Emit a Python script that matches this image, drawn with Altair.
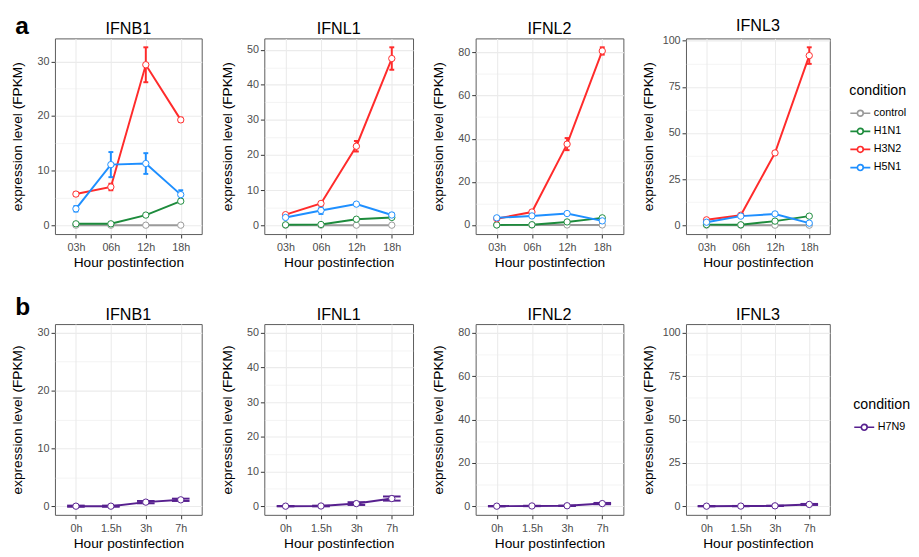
import altair as alt
import pandas as pd

# ---------------- data ----------------
genes = ["IFNB1", "IFNL1", "IFNL2", "IFNL3"]
hours_a = ["03h", "06h", "12h", "18h"]
hours_b = ["0h", "1.5h", "3h", "7h"]
conditions_a = ["control", "H1N1", "H3N2", "H5N1"]
conditions_b = ["H7N9"]
colors_a = ["#9a9a9a", "#1d8b3c", "#ff2b2b", "#1e8fff"]
colors_b = ["#57208f"]

# panel a: mean FPKM at hours_a, per condition
ifnb1_a_mean = {"control": [0, 0, 0, 0], "H1N1": [0.25, 0.25, 1.85, 4.4],
                "H3N2": [5.7, 7.0, 29.4, 19.3], "H5N1": [3.0, 11.1, 11.3, 5.6]}
ifnb1_a_err = {"control": [0, 0, 0, 0], "H1N1": [0.1, 0.1, 0.2, 0.3],
               "H3N2": [0.3, 0.6, 3.2, 0.4], "H5N1": [0.5, 2.3, 1.9, 0.8]}
ifnl1_a_mean = {"control": [0, 0, 0, 0], "H1N1": [0.1, 0.2, 1.7, 2.2],
                "H3N2": [3.0, 6.2, 22.5, 47.5], "H5N1": [2.2, 4.2, 6.0, 2.9]}
ifnl1_a_err = {"control": [0, 0, 0, 0], "H1N1": [0.1, 0.1, 0.3, 0.3],
               "H3N2": [0.3, 0.4, 1.5, 3.2], "H5N1": [0.3, 1.0, 0.3, 0.6]}
ifnl2_a_mean = {"control": [0, 0, 0, 0], "H1N1": [0.0, 0.1, 1.4, 3.3],
                "H3N2": [2.9, 6.0, 37.5, 80.7], "H5N1": [3.3, 4.2, 5.3, 1.9]}
ifnl2_a_err = {"control": [0, 0, 0, 0], "H1N1": [0.1, 0.1, 0.3, 0.4],
               "H3N2": [0.4, 0.5, 2.8, 1.7], "H5N1": [0.3, 0.4, 0.5, 0.4]}
ifnl3_a_mean = {"control": [0, 0, 0, 0], "H1N1": [0.3, 0.2, 2.2, 4.9],
                "H3N2": [2.9, 5.4, 39.2, 92.0], "H5N1": [1.6, 4.9, 6.1, 1.1]}
ifnl3_a_err = {"control": [0, 0, 0, 0], "H1N1": [0.1, 0.1, 0.3, 0.4],
               "H3N2": [0.4, 0.5, 0.6, 4.5], "H5N1": [0.3, 0.4, 0.5, 0.4]}

# panel b: H7N9 mean FPKM at hours_b, per gene
h7n9_b_mean = {"IFNB1": [0.0, 0.0, 0.7, 1.1], "IFNL1": [0.0, 0.05, 0.75, 2.2],
               "IFNL2": [0.0, 0.1, 0.2, 1.2], "IFNL3": [0.0, 0.05, 0.2, 1.0]}
h7n9_b_err = {"IFNB1": [0.1, 0.1, 0.2, 0.2], "IFNL1": [0.05, 0.1, 0.4, 0.6],
              "IFNL2": [0.1, 0.1, 0.1, 0.3], "IFNL3": [0.1, 0.1, 0.1, 0.3]}

y_limits_b = {"IFNB1": 30, "IFNL1": 50, "IFNL2": 80, "IFNL3": 100}
y_steps = {"IFNB1": 10, "IFNL1": 10, "IFNL2": 20, "IFNL3": 25}

a_means = {"IFNB1": ifnb1_a_mean, "IFNL1": ifnl1_a_mean, "IFNL2": ifnl2_a_mean, "IFNL3": ifnl3_a_mean}
a_errs = {"IFNB1": ifnb1_a_err, "IFNL1": ifnl1_a_err, "IFNL2": ifnl2_a_err, "IFNL3": ifnl3_a_err}

FONT = "Liberation Sans"
widths = [150, 152, 151, 147]
legend_path = "M-1,0L0.2,0M1.2,0L2.4,0M0.2,0A0.5,0.5,0,1,1,1.2,0A0.5,0.5,0,1,1,0.2,0Z"


def make_df(hours, means, errs):
    rows = []
    for cond in means:
        for i, h in enumerate(hours):
            m = means[cond][i]
            e = errs[cond][i]
            rows.append({"hour": h, "idx": i, "condition": cond, "mean": m,
                         "lo": m - e, "hi": m + e})
    return pd.DataFrame(rows)


def y_values(dmax, step):
    vals = []
    k = 0
    while k * step / 2 <= dmax + 1e-9:
        vals.append(k * step / 2)
        k += 1
    return vals


def panel(df, hours, conds, colors, domain, step, cap, width, height, title, lx, ly):
    major = f"abs(datum.value / {step} - round(datum.value / {step})) < 0.001"
    xs = alt.Scale(type="point", domain=hours, padding=0.6)
    ys = alt.Scale(domain=domain, nice=False, zero=False)
    xaxis = alt.Axis(title="Hour postinfection", labelAngle=0, grid=True, gridWidth=1.1,
                     tickSize=4, labelPadding=4, titlePadding=3)
    yaxis = alt.Axis(title="expression level (FPKM)", values=y_values(domain[1], step),
                     labelExpr=f"{major} ? datum.label : ''",
                     gridWidth={"condition": {"test": major, "value": 1.1}, "value": 0.55},
                     tickOpacity={"condition": {"test": major, "value": 1}, "value": 0},
                     labelOverlap=False, minExtent=26, maxExtent=26, titlePadding=5,
                     tickSize=4, labelPadding=2)
    cscale = alt.Scale(domain=conds, range=colors)
    col = alt.Color("condition:N", scale=cscale,
                    legend=alt.Legend(title="condition", symbolType=legend_path,
                                      orient="none", legendX=lx, legendY=ly))
    x = alt.X("hour:N", scale=xs, axis=xaxis, sort=hours)
    base = alt.Chart(df).encode(x=x, color=col)
    line = base.mark_line(strokeWidth=2).encode(
        y=alt.Y("mean:Q", scale=ys, axis=yaxis), order="idx:Q")
    rule = base.mark_rule(strokeWidth=2).encode(
        y=alt.Y("lo:Q", scale=ys, axis=yaxis), y2="hi:Q")
    cap_hi = base.mark_rule(strokeWidth=2, xOffset=-cap / 2, x2Offset=cap / 2).encode(
        x2=alt.X2("hour:N"), y=alt.Y("hi:Q", scale=ys, axis=yaxis))
    cap_lo = base.mark_rule(strokeWidth=2, xOffset=-cap / 2, x2Offset=cap / 2).encode(
        x2=alt.X2("hour:N"), y=alt.Y("lo:Q", scale=ys, axis=yaxis))
    pts = base.mark_point(filled=False, fill="white", size=42, strokeWidth=1, opacity=1).encode(
        y=alt.Y("mean:Q", scale=ys, axis=yaxis))
    return alt.layer(line, rule, cap_hi, cap_lo, pts).properties(width=width, height=height, title=title)


panels_a = []
for gi, g in enumerate(genes):
    df = make_df(hours_a, a_means[g], a_errs[g])
    lo = min(df["lo"].min(), 0)
    hi = df["hi"].max()
    r = hi - lo
    dom = [lo - 0.05 * r, hi + 0.05 * r]
    panels_a.append(panel(df, hours_a, conditions_a, colors_a, dom, y_steps[g], 5,
                          widths[gi], 200, g, 812, 47))

panels_b = []
for gi, g in enumerate(genes):
    df = make_df(hours_b, {"H7N9": h7n9_b_mean[g]}, {"H7N9": h7n9_b_err[g]})
    L = y_limits_b[g]
    dom = [-0.05 * L, 1.05 * L]
    panels_b.append(panel(df, hours_b, conditions_b, colors_b, dom, y_steps[g], 18,
                          widths[gi], 195, g, 816, 76))


def row_title(letter, off):
    return alt.TitleParams(letter, anchor="start", fontSize=25, fontWeight="bold",
                           font=FONT, color="black", offset=off, dx=5)


row_a = alt.hconcat(*panels_a, spacing=17, title=row_title("a", -22))
row_b = alt.hconcat(*panels_b, spacing=17, title=row_title("b", -14))

chart = alt.vconcat(row_a, row_b, spacing=26).resolve_scale(color="independent").properties(
    padding={"left": 2, "top": 0, "right": 0, "bottom": 0}
).configure_view(
    stroke="#5a5a5a", strokeWidth=1
).configure_axis(
    labelFont=FONT, titleFont=FONT, labelFontSize=11, titleFontSize=14,
    labelColor="#4d4d4d", titleColor="black", titleFontWeight="normal",
    tickColor="#333333", domain=False, gridColor="#ebebeb"
).configure_title(
    font=FONT, fontSize=16.5, fontWeight="normal", color="black", offset=1
).configure_legend(
    titleFont=FONT, labelFont=FONT, titleFontSize=14.5, titleFontWeight="normal",
    labelFontSize=11, labelColor="black", symbolSize=144,
    symbolStrokeWidth=1.7, symbolFillColor="white", labelOffset=11, rowPadding=4.5,
    titlePadding=8
)

chart.save("out.html", embed_options={"renderer": "svg", "actions": False})
